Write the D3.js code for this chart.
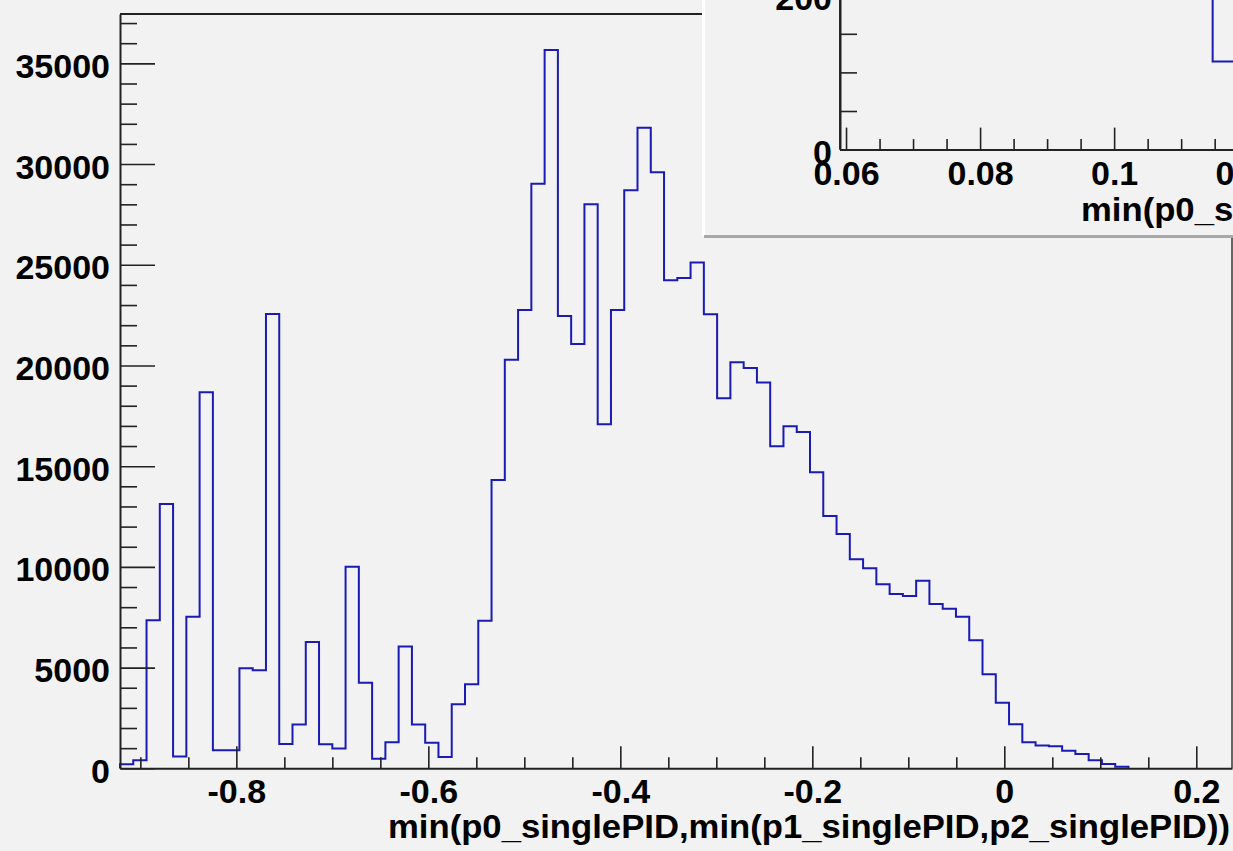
<!DOCTYPE html>
<html>
<head>
<meta charset="utf-8">
<script src="https://cdn.jsdelivr.net/npm/d3@7"></script>
<style>
body { margin: 0; background: #f2f2f2; }
text { font-family: "Liberation Sans", Arial, sans-serif; font-weight: bold; fill: #000; }
</style>
</head>
<body>
<script>
// bin contents (100-bin TTree::Draw histogram, first 76 bins filled)
var counts = [200, 400, 7350, 13120, 580, 7530, 18670, 890, 890, 4970,
              4870, 22560, 1210, 2180, 6270, 1190, 980, 10010, 4250, 480,
              1290, 6050, 2180, 1270, 560, 3180, 4170, 7330, 14310, 20290,
              22750, 29020, 35660, 22450, 21070, 28010, 17080, 22750, 28700, 31800,
              29590, 24230, 24340, 25110, 22540, 18370, 20160, 19870, 19160, 15990,
              16980, 16700, 14700, 12530, 11630, 10380, 9930, 9135, 8650, 8550,
              9315, 8155, 7925, 7530, 6355, 4665, 3260, 2185, 1290, 1130,
              1090, 875, 710, 397, 213, 80];
var binLow = -0.9212,
    binWidth = 0.013823;

var xTicks = [-0.8, -0.6, -0.4, -0.2, 0, 0.2];
var yTicks = [0, 5000, 10000, 15000, 20000, 25000, 30000, 35000];
var xTitle = "min(p0_singlePID,min(p1_singlePID,p2_singlePID))";

// zoomed pad in the upper right corner
var insetEdges = [0.0591, 0.07, 0.085, 0.1, 0.1147, 0.1337];
var insetCounts = [520, 430, 350, 270, 114];
var insetXTicks = [0.06, 0.08, 0.1, 0.12];
var insetYTicks = [0, 200];

var width = 1233,
    height = 851,
    frameLeft = 120,
    frameRight = 1232,
    frameTop = 14,
    frameBottom = 768.3;

var svg = d3.select("body")
            .append("svg")
            .attr("width", width)
            .attr("height", height);

var x = d3.scaleLinear().domain([binLow, 0.2372]).range([frameLeft, frameRight]),
    y = d3.scaleLinear().domain([0, 37450]).range([frameBottom, frameTop]);

var pts = [[binLow, 0]];
counts.forEach(function(c, i) { pts.push([binLow + i * binWidth, c]); });
pts.push([binLow + counts.length * binWidth, 0]);

var step = d3.line()
             .x(function(d) { return x(d[0]); })
             .y(function(d) { return y(d[1]); })
             .curve(d3.curveStepAfter);

svg.append("path")
   .attr("d", step(pts))
   .attr("fill", "none")
   .attr("stroke", "#1a1ab4")
   .attr("stroke-width", 2);

// frame
svg.append("line").attr("x1", frameLeft).attr("x2", 704).attr("y1", frameTop).attr("y2", frameTop)
   .attr("stroke", "#222").attr("stroke-width", 2);
svg.append("line").attr("x1", frameRight).attr("x2", frameRight).attr("y1", 236).attr("y2", frameBottom)
   .attr("stroke", "#666").attr("stroke-width", 2);

function styleAxis(g) {
  g.selectAll("line").attr("stroke", "#222").attr("stroke-width", 1.6);
  g.selectAll("path").attr("stroke", "#222").attr("stroke-width", 2);
  g.selectAll("text").attr("font-size", "34px").attr("font-family", null).attr("fill", "#000");
}

var yMinor = d3.range(1000, 38000, 1000).filter(function(v) { return v % 5000 != 0; });
var xMinor = d3.range(-0.9, 0.23, 0.05).filter(function(v) { return Math.abs(v * 5 - Math.round(v * 5)) > 1e-6; });

svg.append("g")
   .attr("transform", "translate(" + frameLeft + ",0)")
   .call(d3.axisLeft(y).tickValues(yMinor).tickSize(-17).tickFormat(""))
   .call(function(g) { g.select(".domain").remove(); })
   .call(styleAxis);
svg.append("g")
   .attr("transform", "translate(" + frameLeft + ",0)")
   .call(d3.axisLeft(y).tickValues(yTicks).tickSize(-35).tickSizeOuter(0).tickPadding(10).tickFormat(d3.format("d")))
   .call(styleAxis)
   .call(function(g) { g.selectAll("text").attr("dy", "0.41em"); });

svg.append("g")
   .attr("transform", "translate(0," + frameBottom + ")")
   .call(d3.axisBottom(x).tickValues(xMinor).tickSize(-11).tickFormat(""))
   .call(function(g) { g.select(".domain").remove(); })
   .call(styleAxis);
svg.append("g")
   .attr("transform", "translate(0," + frameBottom + ")")
   .call(d3.axisBottom(x).tickValues(xTicks).tickSize(-22).tickSizeOuter(0).tickPadding(11)
           .tickFormat(function(d) { return d == 0 ? "0" : d3.format("")(d).replace("−", "-"); }))
   .call(styleAxis);

svg.append("text")
   .attr("x", 388)
   .attr("y", 838)
   .attr("font-size", "34px")
   .attr("textLength", 842)
   .attr("lengthAdjust", "spacingAndGlyphs")
   .text(xTitle);

// ---- inset pad ----
var inset = svg.append("g");
inset.append("rect").attr("x", 703).attr("y", -50).attr("width", 600).attr("height", 286)
     .attr("fill", "#f2f2f2");
inset.append("rect").attr("x", 702).attr("y", -50).attr("width", 3).attr("height", 286)
     .attr("fill", "#ffffff");
inset.append("rect").attr("x", 704).attr("y", 235).attr("width", 600).attr("height", 3)
     .attr("fill", "#a8a8a8");

var ileft = 840, ibottom = 149.6, itop = -40;
var ix = d3.scaleLinear().domain([0.0591, 0.1337]).range([ileft, 1340]),
    iy = d3.scaleLinear().domain([0, 245.6]).range([ibottom, itop]);

var ipts = [[insetEdges[0], 0]];
insetCounts.forEach(function(c, i) { ipts.push([insetEdges[i], c]); });
ipts.push([insetEdges[insetEdges.length - 1], insetCounts[insetCounts.length - 1]]);

inset.append("path")
     .attr("d", d3.line().x(function(d) { return ix(d[0]); }).y(function(d) { return iy(d[1]); })
                 .curve(d3.curveStepAfter)(ipts))
     .attr("fill", "none")
     .attr("stroke", "#1a1ab4")
     .attr("stroke-width", 2);

var iyMinor = [50, 100, 150, 250];
var ixMinor = d3.range(0.065, 0.135, 0.005).filter(function(v) { return Math.abs(v * 50 - Math.round(v * 50)) > 1e-6; });

inset.append("g")
     .attr("transform", "translate(" + ileft + ",0)")
     .call(d3.axisLeft(iy).tickValues(iyMinor).tickSize(-17).tickFormat(""))
     .call(function(g) { g.select(".domain").remove(); })
     .call(styleAxis);
inset.append("g")
     .attr("transform", "translate(" + ileft + ",0)")
     .call(d3.axisLeft(iy).tickValues(insetYTicks).tickSize(-35).tickSizeOuter(0).tickPadding(8).tickFormat(d3.format("d")))
     .call(styleAxis)
     .call(function(g) { g.selectAll("text").attr("dy", "0.41em"); });

inset.append("g")
     .attr("transform", "translate(0," + ibottom + ")")
     .call(d3.axisBottom(ix).tickValues(ixMinor).tickSize(-10.5).tickFormat(""))
     .call(function(g) { g.select(".domain").remove(); })
     .call(styleAxis);
inset.append("g")
     .attr("transform", "translate(0," + ibottom + ")")
     .call(d3.axisBottom(ix).tickValues(insetXTicks).tickSize(-22).tickSizeOuter(0).tickPadding(11)
             .tickFormat(d3.format("")))
     .call(styleAxis);

inset.append("text")
     .attr("x", 1081)
     .attr("y", 221)
     .attr("font-size", "34px")
     .attr("textLength", 842)
     .attr("lengthAdjust", "spacingAndGlyphs")
     .text(xTitle);
</script>
</body>
</html>
